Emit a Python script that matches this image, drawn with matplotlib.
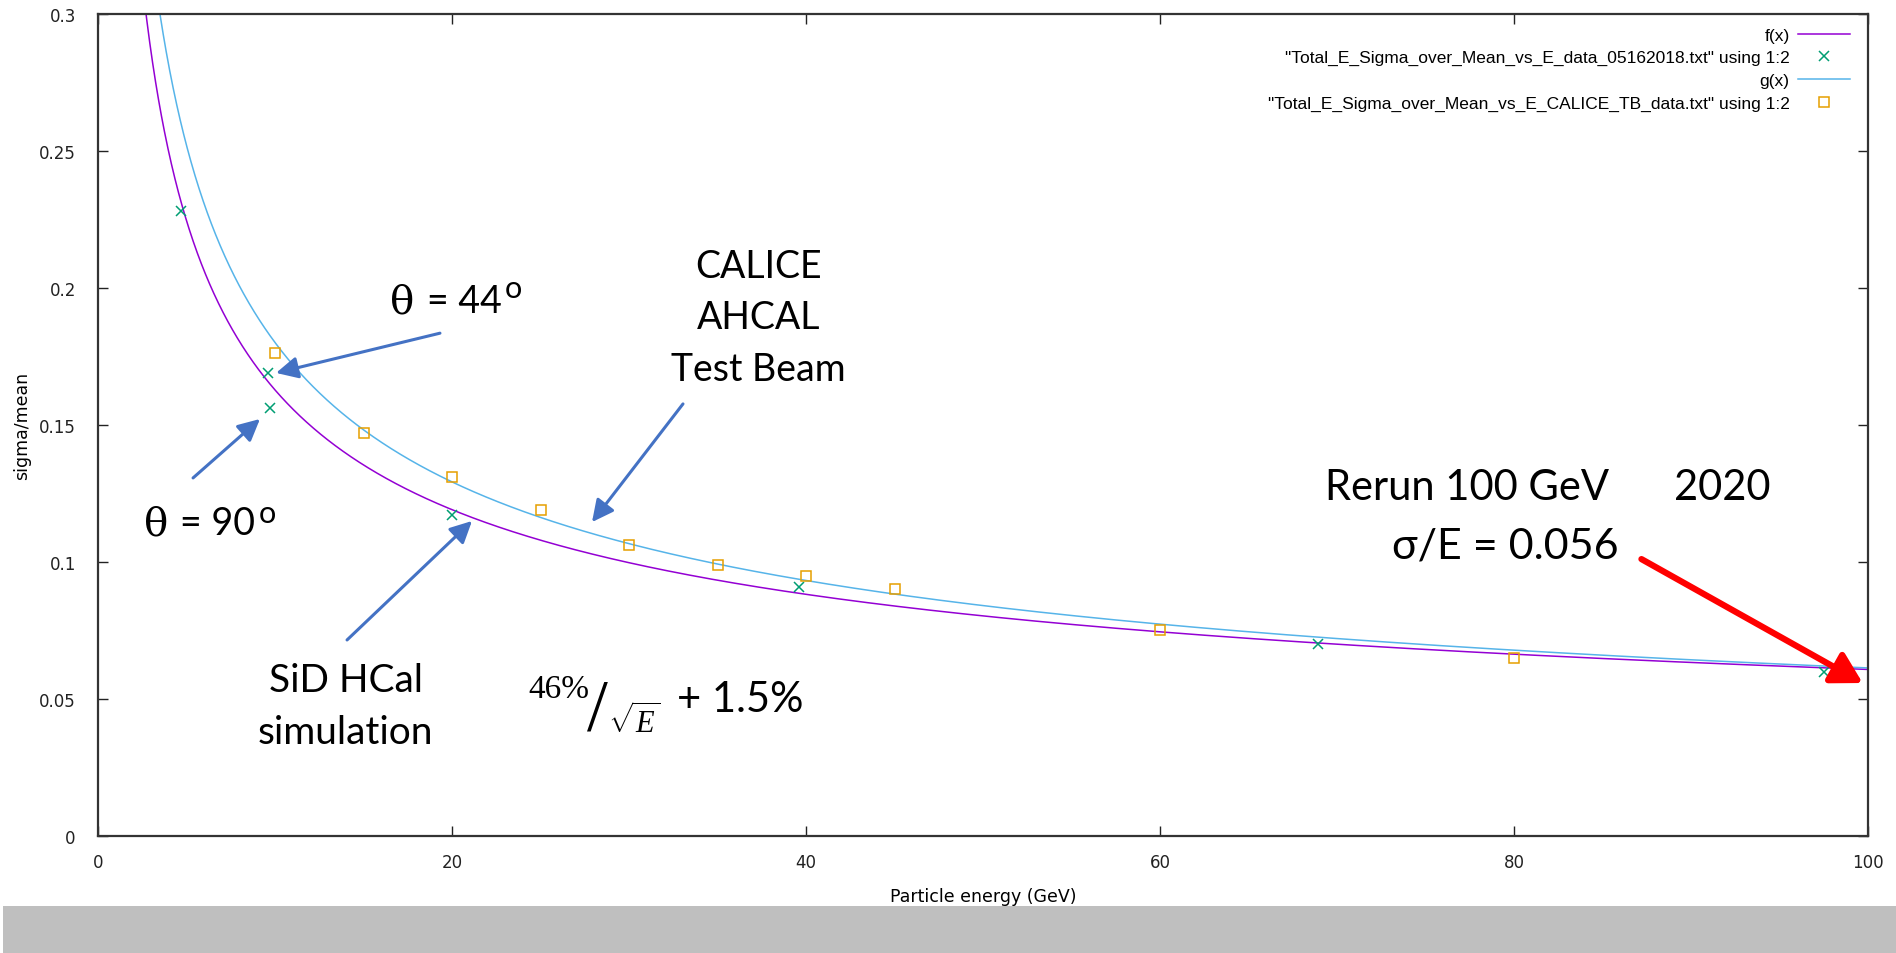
import numpy as np
import matplotlib
matplotlib.use("Agg")
import matplotlib.pyplot as plt
from matplotlib.patches import Rectangle

plt.rcParams['mathtext.fontset'] = 'custom'
plt.rcParams['mathtext.rm'] = 'Liberation Serif'
plt.rcParams['mathtext.it'] = 'Liberation Serif:italic'

# SiD HCal simulation points (green x)
sid_E = [4.7, 9.6, 9.7, 20.0, 39.6, 68.9, 97.5]
sid_res = [0.228, 0.169, 0.156, 0.117, 0.091, 0.070, 0.060]

# CALICE AHCAL test beam points (orange squares)
tb_E = [10, 15, 20, 25, 30, 35, 40, 45, 60, 80]
tb_res = [0.176, 0.147, 0.131, 0.119, 0.106, 0.099, 0.095, 0.090, 0.075, 0.065]

# fitted curves a/sqrt(E) + b
f_a, f_b = 0.4715, 0.0136
g_a, g_b = 0.549, 0.0064

x_ticks = [0, 20, 40, 60, 80, 100]
y_ticks = [0, 0.05, 0.1, 0.15, 0.2, 0.25, 0.3]
y_labels = ['0', '0.05', '0.1', '0.15', '0.2', '0.25', '0.3']

purple = '#9400D3'
green = '#009E73'
cyan = '#56B4E9'
orange = '#E69F00'
blue = '#4472C4'

fig = plt.figure(figsize=(18.96, 9.54), dpi=100)
ax = fig.add_axes([98 / 1896, 1 - 837 / 954, 1770 / 1896, 822.5 / 954])

E = np.linspace(0.5, 100, 3000)
ax.plot(E, f_a / np.sqrt(E) + f_b, color=purple, lw=1.1, label='f(x)')
ax.plot(sid_E, sid_res, ls='none', marker='x', ms=7, mew=1.1, color=green,
        label='"Total_E_Sigma_over_Mean_vs_E_data_05162018.txt" using 1:2')
ax.plot(E, g_a / np.sqrt(E) + g_b, color=cyan, lw=1.1, label='g(x)')
ax.plot(tb_E, tb_res, ls='none', marker='s', ms=7, mew=1.1, mfc='none', color=orange,
        label='"Total_E_Sigma_over_Mean_vs_E_CALICE_TB_data.txt" using 1:2')

ax.set_xlim(0, 100)
ax.set_ylim(0, 0.3)
ax.set_xticks(x_ticks)
ax.set_xticklabels([str(t) for t in x_ticks])
ax.set_yticks(y_ticks)
ax.set_yticklabels(y_labels)
ax.tick_params(direction='in', length=7, width=1, top=True, right=True,
               labelsize=12, colors='#222222')
ax.tick_params(axis='x', pad=12)
ax.tick_params(axis='y', pad=16)
for s in ax.spines.values():
    s.set_linewidth(1.6)
    s.set_color('#333333')
ax.set_xlabel('Particle energy (GeV)', fontsize=12.5, labelpad=12)
ax.set_ylabel('sigma/mean', fontsize=12.5, labelpad=6)

ax.legend(loc='upper right', bbox_to_anchor=(0.990, 0.983), frameon=False,
          markerfirst=False, handlelength=3.0, handletextpad=0.5,
          labelspacing=0.43, borderpad=0, borderaxespad=0,
          prop={'family': 'Liberation Sans', 'size': 12.5})

txt = dict(family='Lato', fontsize=27, color='black')
ax.text(37.3, 0.2079, 'CALICE', ha='center', va='center', **txt)
ax.text(37.3, 0.1893, 'AHCAL', ha='center', va='center', **txt)
ax.text(37.3, 0.1703, 'Test Beam', ha='center', va='center', **txt)
sid = dict(txt, fontsize=28)
ax.text(14.0, 0.0568, 'SiD HCal', ha='center', va='center', **sid)
ax.text(14.0, 0.0378, 'simulation', ha='center', va='center', **sid)

# theta labels: serif theta, sans numbers, raised "o"
theta = dict(family='DejaVu Serif', fontsize=29, color='black')
ax.text(16.5, 0.1911, 'θ', ha='left', va='baseline', **theta)
ax.text(18.6, 0.1911, '= 44', ha='left', va='baseline', **txt)
ax.text(23.0, 0.1966, 'o', ha='left', va='baseline', family='Lato', fontsize=22)
ax.text(2.6, 0.1101, 'θ', ha='left', va='baseline', **theta)
ax.text(4.63, 0.1101, '= 90', ha='left', va='baseline', **txt)
ax.text(9.1, 0.1145, 'o', ha='left', va='baseline', family='Lato', fontsize=22)

# resolution formula
ax.text(24.3, 0.0507, '46%', ha='left', va='baseline', family='Liberation Serif', fontsize=24)
ax.text(27.6, 0.0387, '/', ha='left', va='baseline', family='Liberation Serif', fontsize=54)
ax.text(28.8, 0.0379, r'$\sqrt{E}$', ha='left', va='baseline', fontsize=22)
ax.text(32.7, 0.050, '+ 1.5%', ha='left', va='center', **dict(txt, fontsize=30))

big = dict(txt, fontsize=30)
ax.text(69.3, 0.1273, 'Rerun 100 GeV', ha='left', va='center', **big)
ax.text(94.5, 0.1273, '2020', ha='right', va='center', **big)
ax.text(79.5, 0.1058, 'σ/E = 0.056', ha='center', va='center', **dict(txt, fontsize=31))

arrows = [((19.32, 0.1834), (10.06, 0.1689)),
          ((5.37, 0.1306), (9.15, 0.1521)),
          ((14.07, 0.0715), (21.13, 0.1149)),
          ((33.05, 0.1576), (27.91, 0.1145))]
for tail, head in arrows:
    ax.annotate('', xy=head, xytext=tail,
                arrowprops=dict(arrowstyle='-|>,head_length=0.6,head_width=0.3',
                                color=blue, lw=2.2, mutation_scale=22,
                                shrinkA=0, shrinkB=0))
ax.annotate('', xy=(99.7, 0.0558), xytext=(87.2, 0.101),
            arrowprops=dict(arrowstyle='-|>,head_length=0.7,head_width=0.4',
                            color='#FF0000', lw=4.5, mutation_scale=26,
                            shrinkA=0, shrinkB=0))

fig.patches.append(Rectangle((3 / 1896, 0), 1, 47 / 954, transform=fig.transFigure,
                             facecolor='#BFBFBF', edgecolor='none'))

fig.savefig('out.png', dpi=100)
